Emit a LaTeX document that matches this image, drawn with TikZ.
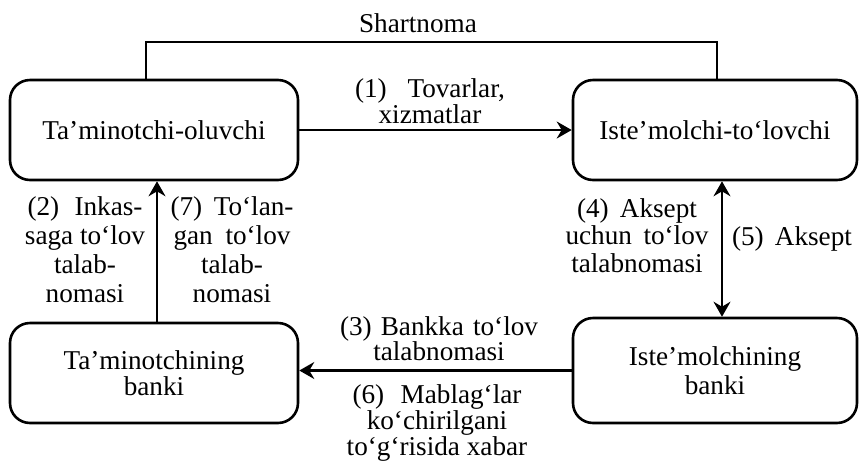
\documentclass[tikz,border=0pt]{standalone}
\usepackage{fontspec}
\setmainfont{Liberation Serif}
\usetikzlibrary{arrows.meta}
\newcommand{\jb}[2]{\makebox[#1][s]{#2}}
\begin{document}
\begin{tikzpicture}[x=0.5pt,y=-0.5pt,
  box/.style={draw,line width=1.3pt,rounded corners=10pt,align=center,inner sep=0pt,font=\fontsize{13.6}{14}\selectfont},
  conn/.style={line width=1.1pt},
  arr/.style={-{Stealth[length=7.5pt,width=8.5pt,inset=2.5pt]}},
  darr/.style={{Stealth[length=7.5pt,width=8.5pt,inset=2.5pt]}-{Stealth[length=7.5pt,width=8.5pt,inset=2.5pt]}},
  lbl/.style={inner sep=0pt,align=center},
]
\useasboundingbox (0,0) rectangle (859,462);
% boxes
\node[box,minimum width=144pt,minimum height=50pt] (tl) at (154,130) {Ta’minotchi-oluvchi};
\node[box,minimum width=142pt,minimum height=50pt] (tr) at (715,130) {Iste’molchi-to‘lovchi};
\node[box,minimum width=144pt,minimum height=50pt,font=\fontsize{13.6}{13}\selectfont] (bl) at (154,373) {Ta’minotchining\\banki};
\node[box,minimum width=142pt,minimum height=52.5pt,font=\fontsize{13.6}{14.5}\selectfont] (br) at (715,370.5) {Iste’molchining\\banki};
% labels
\node[lbl,anchor=base,font=\fontsize{13.6}{14}\selectfont] (sh) at (418,32) {Shartnoma};
\node[lbl,anchor=north,font=\fontsize{13.6}{11.5}\selectfont] (l1) at (430,78) {\jb{75pt}{(1) Tovarlar,}\\xizmatlar};
\node[lbl,anchor=north,font=\fontsize{13.6}{14.5}\selectfont] (l2) at (85,196) {\jb{57.5pt}{(2) Inkas-}\\saga to‘lov\\talab-\\nomasi};
\node[lbl,anchor=north,font=\fontsize{13.6}{14.5}\selectfont] (l7) at (232,196) {\jb{61.5pt}{(7) To‘lan-}\\\jb{58.5pt}{gan to‘lov}\\talab-\\nomasi};
\node[lbl,anchor=north,font=\fontsize{13.6}{13.75}\selectfont] (l4) at (637,198) {\jb{60pt}{(4) Aksept}\\\jb{71.5pt}{uchun to‘lov}\\talabnomasi};
\node[lbl,anchor=base,font=\fontsize{13.6}{14}\selectfont] (l5) at (792,245) {\jb{60pt}{(5) Aksept}};
\node[lbl,anchor=north,font=\fontsize{13.6}{12.5}\selectfont] (l3) at (439,316) {\jb{99pt}{(3) Bankka to‘lov}\\talabnomasi};
\node[lbl,anchor=north,font=\fontsize{13.6}{13}\selectfont] (l6) at (437,384) {\jb{84.5pt}{(6) Mablag‘lar}\\ko‘chirilgani\\to‘g‘risida xabar};
% connectors
\draw[conn] ([xshift=-4pt]tl.north) -- ++(0,-37) -| ([xshift=1pt]tr.north);
\draw[conn,arr] (tl.east) -- (tr.west);
\draw[conn,arr] ([xshift=1.5pt]bl.north) -- ([xshift=1.5pt]bl.north |- tl.south);
\draw[conn,darr] ([xshift=3.5pt]tr.south) -- ([xshift=3.5pt]tr.south |- br.north);
\draw[conn,arr] (br.west) -- (br.west -| bl.east);
\end{tikzpicture}
\end{document}
